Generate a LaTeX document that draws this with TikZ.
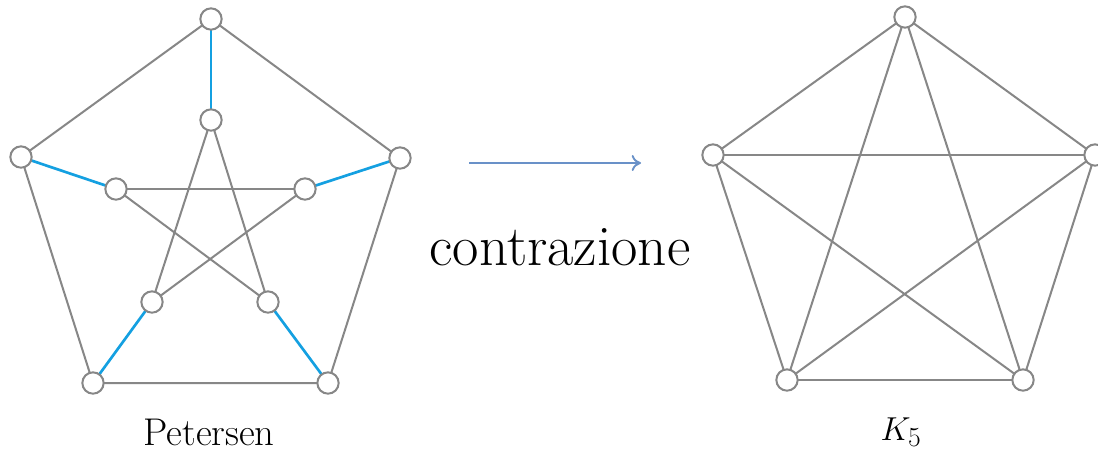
\documentclass[tikz,border=0pt]{standalone}
\usetikzlibrary{arrows.meta}
\definecolor{edgegray}{RGB}{135,135,135}
\definecolor{matchblue}{RGB}{20,160,225}
\definecolor{arrowblue}{RGB}{105,145,200}
\tikzset{
  vtx/.style={circle,draw=edgegray,fill=white,line width=1.5pt,minimum size=16pt,inner sep=0pt},
  edge/.style={draw=edgegray,line width=1.5pt},
  spoke/.style={draw=matchblue,line width=2pt},
  caption/.style={font=\fontsize{29}{34}\selectfont,anchor=base,inner sep=0pt},
  mapsto/.style={draw=arrowblue,line width=1.6pt,-{To[length=7pt,width=12pt,line width=1.4pt]}}
}
\begin{document}
\begin{tikzpicture}[x=0.75pt,y=-0.75pt]
\useasboundingbox (0,0) rectangle (1098,451);
\fill[white] (0,0) rectangle (1098,451);

% Petersen graph: outer pentagon
\coordinate (o1) at (211,19);
\coordinate (o2) at (400,158);
\coordinate (o3) at (328,383);
\coordinate (o4) at (93,383);
\coordinate (o5) at (21,157);
% inner pentagram
\coordinate (i1) at (211,120);
\coordinate (i2) at (305,189);
\coordinate (i3) at (268,302);
\coordinate (i4) at (152,302);
\coordinate (i5) at (116,189);

\draw[edge] (o1) -- (o2) -- (o3) -- (o4) -- (o5) -- cycle;
\draw[edge] (i1) -- (i3);
\draw[edge] (i3) -- (i5);
\draw[edge] (i5) -- (i2);
\draw[edge] (i2) -- (i4);
\draw[edge] (i4) -- (i1);
\foreach \k in {1,...,5} \draw[spoke] (o\k) -- (i\k);
\foreach \k in {1,...,5} {
  \node[vtx] (po\k) at (o\k) {};
  \node[vtx] (pi\k) at (i\k) {};
}
\node[caption] (plabel) at (209,445) {Petersen};

% contraction arrow
\coordinate (arrS) at (469,163);
\coordinate (arrE) at (641,163);
\draw[mapsto] (arrS) -- (arrE);
\node[font=\fontsize{43}{50}\selectfont,anchor=base] (contr) at (560,265) {contrazione};

% complete graph K5
\coordinate (k1) at (905,17);
\coordinate (k2) at (1095,155);
\coordinate (k3) at (1023,380);
\coordinate (k4) at (787,380);
\coordinate (k5) at (713,155);
\foreach \a/\b in {1/2,1/3,1/4,1/5,2/3,2/4,2/5,3/4,3/5,4/5}
  \draw[edge] (k\a) -- (k\b);
\foreach \k in {1,...,5} \node[vtx] (kv\k) at (k\k) {};
\node[caption] (klabel) at (901,440) {$K_5$};
\end{tikzpicture}
\end{document}
